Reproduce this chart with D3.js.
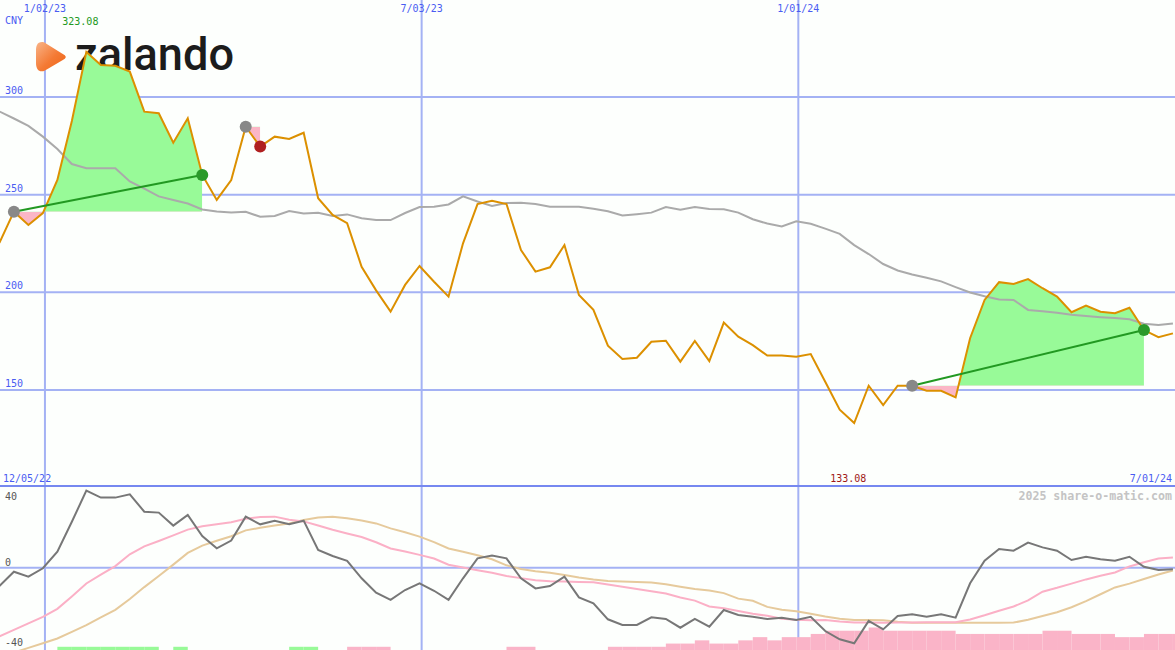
<!DOCTYPE html>
<html>
<head>
<meta charset="utf-8">
<script src="https://cdn.jsdelivr.net/npm/d3@7"></script>
<style>
  html, body { margin: 0; padding: 0; background: #fdfffd; }
  svg { display: block; }
  text { font-family: "DejaVu Sans Mono", monospace; font-size: 10px; }
</style>
</head>
<body>
<script>
// weekly closes, first point on 11 Dec 2022
var firstWeek = Date.UTC(2022, 11, 11);
var price = [225.3, 241.3, 234.5, 240.6, 257.5, 287.7, 323.08, 316.4, 316.0, 313.0,
  292.5, 291.7, 276.6, 289.1, 260.1, 247.3, 257.5, 284.8, 274.6, 279.7,
  278.5, 281.7, 248.2, 239.6, 235.4, 213.1, 201.0, 190.1, 203.8, 213.5,
  205.4, 197.8, 225.1, 245.2, 246.9, 245.2, 221.7, 210.6, 212.8, 224.2,
  198.6, 191.0, 172.7, 165.9, 166.5, 174.7, 175.2, 164.5, 175.1, 164.8,
  184.5, 177.3, 173.0, 167.6, 167.6, 167.0, 168.4, 154.2, 139.9, 133.08,
  152.2, 142.3, 152.2, 152.2, 149.6, 149.6, 146.2, 176.5, 196.1, 205.2,
  204.3, 206.8, 202.1, 197.8, 189.8, 193.2, 190.1, 189.3, 192.1, 180.7,
  177.0, 179.0];
var avg = [292.6, 289.0, 285.2, 279.7, 273.4, 265.7, 263.5, 263.5, 263.5, 256.8,
  253.1, 249.1, 247.3, 245.5, 242.4, 241.4, 240.9, 241.2, 238.7, 239.1,
  241.6, 240.4, 240.7, 239.1, 239.9, 237.9, 237.0, 237.0, 240.6, 243.7,
  243.8, 245.0, 249.1, 246.5, 244.2, 245.7, 245.9, 245.2, 243.8, 243.8,
  243.8, 242.8, 241.5, 239.3, 240.0, 240.8, 243.7, 242.3, 243.7, 242.7,
  242.5, 240.8, 237.4, 235.2, 233.7, 236.4, 235.1, 232.6, 229.9, 224.2,
  219.6, 214.5, 211.2, 209.1, 207.5, 205.6, 202.7, 199.9, 198.0, 196.3,
  196.1, 191.0, 190.3, 189.6, 188.5, 187.9, 187.3, 186.8, 186.2, 183.9,
  183.3, 184.1];
var osc = [-10.0, -2.2, -4.9, -0.3, 8.7, 25.1, 42.1, 38.3, 38.3, 40.1,
  30.6, 30.1, 23.0, 28.8, 17.3, 10.6, 14.8, 27.9, 23.7, 25.7,
  23.7, 25.7, 9.7, 6.4, 3.8, -5.8, -13.7, -17.6, -12.2, -8.5,
  -12.6, -17.6, -5.8, 5.1, 6.6, 5.1, -5.8, -11.3, -10.0, -4.9,
  -16.2, -19.5, -28.2, -31.3, -31.3, -27.1, -28.0, -32.8, -28.0, -32.2,
  -23.1, -25.8, -26.8, -28.0, -27.3, -28.6, -26.8, -34.6, -39.1, -41.3,
  -29.1, -33.7, -26.4, -25.5, -26.8, -25.5, -27.3, -8.5, 3.8, 10.2,
  9.3, 13.7, 11.1, 9.3, 4.2, 6.0, 4.6, 3.8, 6.0, 0.5,
  -1.3, -0.9];
var oscFast = [-37.5, -34.0, -30.4, -26.9, -22.5, -15.7, -8.6, -3.8, 0.9, 7.3,
  11.7, 14.6, 17.7, 20.8, 22.7, 23.7, 24.8, 26.8, 27.7, 27.9,
  26.2, 25.3, 23.1, 20.7, 18.7, 16.8, 13.9, 10.5, 8.8, 7.0,
  5.0, 1.6, 0.1, -1.4, -2.8, -4.5, -5.7, -6.8, -7.4, -7.6,
  -7.8, -7.9, -9.2, -10.4, -11.6, -12.9, -14.1, -16.3, -18.0, -21.2,
  -22.1, -23.7, -25.2, -26.3, -27.9, -28.5, -28.7, -28.6, -29.4, -29.9,
  -30.0, -30.1, -29.9, -29.9, -29.8, -29.8, -29.8, -28.3, -26.0, -23.5,
  -21.2, -17.9, -13.1, -11.0, -8.7, -6.4, -4.4, -2.6, 0.7, 3.0,
  5.0, 5.6];
var oscSlow = [-48.9, -46.4, -43.8, -41.3, -38.7, -35.1, -31.4, -27.2, -23.0, -17.1,
  -10.6, -4.5, 1.7, 8.1, 12.1, 14.7, 17.2, 20.4, 21.8, 23.0,
  24.2, 26.1, 27.4, 27.9, 27.0, 25.8, 24.2, 21.5, 19.4, 17.0,
  14.0, 10.5, 8.7, 6.8, 4.6, 1.3, -0.7, -2.0, -2.8, -4.0,
  -5.4, -6.5, -7.3, -7.5, -7.8, -8.1, -9.1, -10.4, -11.6, -12.5,
  -13.9, -16.9, -18.1, -21.4, -23.0, -23.8, -25.2, -26.7, -27.9, -28.6,
  -28.6, -28.7, -29.5, -30.1, -30.1, -30.1, -30.1, -30.1, -30.1, -30.1,
  -30.0, -28.4, -26.4, -24.3, -21.6, -18.3, -14.5, -10.8, -8.7, -6.2,
  -3.7, -1.5];
// trend bars under the oscillator: + green, - pink
var trend = [0, 0, 0, 0, 1, 1, 1, 1, 1, 1,
  1, 0, 1, 0, 0, 0, 0, 0, 0, 0,
  1, 1, 0, 0, -1, -1, -1, 0, 0, 0,
  0, 0, 0, 0, 0, -1, -1, 0, 0, 0,
  0, 0, -1, -1, -1, -1, -2, -2, -3, -2,
  -2, -3, -4, -3, -4, -4, -5, -6, -6, -6,
  -7, -6, -6, -6, -6, -6, -5, -5, -5, -5,
  -5, -5, -6, -6, -5, -5, -5, -4, -4, -5,
  -5, -5];
// trades: [entry week, exit week]
var trades = [[1, 14], [17, 18], [63, 79]];
var priceTicks = [150, 200, 250, 300];
var oscTicks = [40, 0, -40];
var gridDates = ["2023-01-02", "2023-07-03", "2024-01-01"];
var dateLabels = ["1/02/23", "7/03/23", "1/01/24"];

var W = 1175, H = 650, split = 487;
var dates = price.map((d, i) => new Date(firstWeek + i * 7 * 864e5));
var data = price.map((p, i) => ({ date: dates[i], p: p, a: avg[i], o: osc[i], f: oscFast[i], s: oscSlow[i], t: trend[i] }));

var x = d3.scaleUtc()
  .domain([new Date(Date.UTC(2022, 11, 5)), new Date(Date.UTC(2024, 6, 1))])
  .range([-13, 1175]);
var y = d3.scaleLinear().domain([150, 300]).range([390, 97]);
var yo = d3.scaleLinear().domain([-40, 40]).range([640.9, 494.5]);
var yb = d3.scaleLinear().domain([0, 7]).range([650, 627.5]);

var svg = d3.select('body').append('svg')
  .attr('width', W).attr('height', H);

var defs = svg.append('defs');
defs.append('clipPath').attr('id', 'clipTop').append('rect')
  .attr('x', 0).attr('y', 0).attr('width', W).attr('height', split);
defs.append('clipPath').attr('id', 'clipBot').append('rect')
  .attr('x', 0).attr('y', split).attr('width', W).attr('height', H - split);
var grad = defs.append('linearGradient').attr('id', 'logoGrad')
  .attr('x1', 0).attr('y1', 0).attr('x2', 1).attr('y2', 1);
grad.append('stop').attr('offset', '0%').attr('stop-color', '#f9b488');
grad.append('stop').attr('offset', '55%').attr('stop-color', '#f47a34');
grad.append('stop').attr('offset', '100%').attr('stop-color', '#ee6414');

svg.append('rect').attr('width', W).attr('height', H).attr('fill', '#fdfffd');

// grid
var gridColor = '#a4b2f4';
svg.selectAll('.hgrid').data(priceTicks).enter().append('line')
  .attr('x1', 0).attr('x2', W)
  .attr('y1', d => y(d)).attr('y2', d => y(d))
  .attr('stroke', gridColor).attr('stroke-width', 2);
svg.append('line')
  .attr('x1', 0).attr('x2', W).attr('y1', yo(0)).attr('y2', yo(0))
  .attr('stroke', gridColor).attr('stroke-width', 2);
svg.selectAll('.vgrid').data(gridDates).enter().append('line')
  .attr('x1', d => x(new Date(d))).attr('x2', d => x(new Date(d)))
  .attr('y1', 0).attr('y2', H)
  .attr('stroke', gridColor).attr('stroke-width', 2);
svg.append('line')
  .attr('x1', 0).attr('x2', W).attr('y1', split - 1).attr('y2', split - 1)
  .attr('stroke', '#7688f0').attr('stroke-width', 2);

// logo
svg.append('path')
  .attr('d', 'M42,42 C37,42 36,46 36,51 L36,63 C36,70 40,73 45,70.5 L62,60.5 C67,58 67,56 62,53.5 L46,43.5 C45,42.5 43.5,42 42,42 Z')
  .attr('fill', 'url(#logoGrad)');
svg.append('text')
  .attr('x', 75).attr('y', 70)
  .attr('textLength', 159).attr('lengthAdjust', 'spacingAndGlyphs')
  .style('font-family', 'Roboto, sans-serif').style('font-size', '46px').style('font-weight', 500)
  .attr('fill', '#1c1c1c')
  .text('zalando');

// trade areas
var gTop = svg.append('g').attr('clip-path', 'url(#clipTop)');
trades.forEach(function(t, n) {
  var seg = data.slice(t[0], t[1] + 1);
  var base = price[t[0]];
  var area = d3.area().x(d => x(d.date)).y0(y(base)).y1(d => y(d.p));
  var x0 = x(dates[t[0]]), x1 = x(dates[t[1]]);
  defs.append('clipPath').attr('id', 'up' + n).append('rect')
    .attr('x', x0).attr('y', 0).attr('width', x1 - x0).attr('height', y(base));
  defs.append('clipPath').attr('id', 'dn' + n).append('rect')
    .attr('x', x0).attr('y', y(base)).attr('width', x1 - x0).attr('height', split - y(base));
  gTop.append('path').datum(seg).attr('d', area)
    .attr('fill', '#98fa98').attr('clip-path', 'url(#up' + n + ')');
  gTop.append('path').datum(seg).attr('d', area)
    .attr('fill', '#fbb6c6').attr('clip-path', 'url(#dn' + n + ')');
});

// lines
gTop.append('path').datum(data)
  .attr('d', d3.line().x(d => x(d.date)).y(d => y(d.a)))
  .attr('fill', 'none').attr('stroke', '#aaaaaa').attr('stroke-width', 2);
gTop.append('path').datum(data)
  .attr('d', d3.line().x(d => x(d.date)).y(d => y(d.p)))
  .attr('fill', 'none').attr('stroke', '#dc9000').attr('stroke-width', 2);

trades.forEach(function(t) {
  var win = price[t[1]] > price[t[0]];
  if (win) {
    gTop.append('line')
      .attr('x1', x(dates[t[0]])).attr('y1', y(price[t[0]]))
      .attr('x2', x(dates[t[1]])).attr('y2', y(price[t[1]]))
      .attr('stroke', '#229922').attr('stroke-width', 2);
  }
  gTop.append('circle').attr('cx', x(dates[t[0]])).attr('cy', y(price[t[0]]))
    .attr('r', 6).attr('fill', '#888888');
  gTop.append('circle').attr('cx', x(dates[t[1]])).attr('cy', y(price[t[1]]))
    .attr('r', 6).attr('fill', win ? '#2a9a2a' : '#b02020');
});

// oscillator panel
var gBot = svg.append('g').attr('clip-path', 'url(#clipBot)');
gBot.selectAll('.bar').data(data.filter(d => d.t != 0)).enter().append('rect')
  .attr('x', d => x(d.date))
  .attr('width', d => x(new Date(+d.date + 7 * 864e5)) - x(d.date))
  .attr('y', d => yb(Math.abs(d.t)))
  .attr('height', d => yb(0) - yb(Math.abs(d.t)))
  .attr('fill', d => d.t > 0 ? '#98fa98' : '#fab4c8');
gBot.append('path').datum(data)
  .attr('d', d3.line().x(d => x(d.date)).y(d => yo(d.s)))
  .attr('fill', 'none').attr('stroke', '#e6ca9c').attr('stroke-width', 2);
gBot.append('path').datum(data)
  .attr('d', d3.line().x(d => x(d.date)).y(d => yo(d.f)))
  .attr('fill', 'none').attr('stroke', '#fbb0c6').attr('stroke-width', 2);
gBot.append('path').datum(data)
  .attr('d', d3.line().x(d => x(d.date)).y(d => yo(d.o)))
  .attr('fill', 'none').attr('stroke', '#777777').attr('stroke-width', 2);

// labels
var blue = '#4a5cf2';
svg.append('text').attr('x', 5).attr('y', 24).attr('fill', blue).text('CNY');
svg.selectAll('.plab').data(priceTicks).enter().append('text')
  .attr('x', 5).attr('y', d => y(d) - 3).attr('fill', blue).text(d => d);
svg.selectAll('.dlab').data(gridDates).enter().append('text')
  .attr('x', d => x(new Date(d))).attr('y', 12).attr('text-anchor', 'middle')
  .attr('fill', blue).text((d, i) => dateLabels[i]);
svg.selectAll('.olab').data(oscTicks).enter().append('text')
  .attr('x', 5).attr('y', d => d == 40 ? 500 : (d == 0 ? yo(0) - 2 : 646))
  .attr('fill', '#555555').text(d => d);
svg.append('text').attr('x', 3).attr('y', 482).attr('fill', blue).text('12/05/22');
svg.append('text').attr('x', 1172).attr('y', 482).attr('text-anchor', 'end').attr('fill', blue).text('7/01/24');

var hi = d3.maxIndex(price), lo = d3.minIndex(price);
svg.append('text').attr('x', x(dates[hi]) - 6).attr('y', 25).attr('text-anchor', 'middle')
  .attr('fill', '#229922').text(d3.format('.2f')(price[hi]));
svg.append('text').attr('x', x(dates[lo]) - 6).attr('y', 482).attr('text-anchor', 'middle')
  .attr('fill', '#a01818').text(d3.format('.2f')(price[lo]));

svg.append('text').attr('x', 1172).attr('y', 500).attr('text-anchor', 'end')
  .style('font-size', '11.6px').style('font-weight', 'bold')
  .attr('fill', '#c4c4c4').text('2025 share-o-matic.com');
</script>
</body>
</html>
